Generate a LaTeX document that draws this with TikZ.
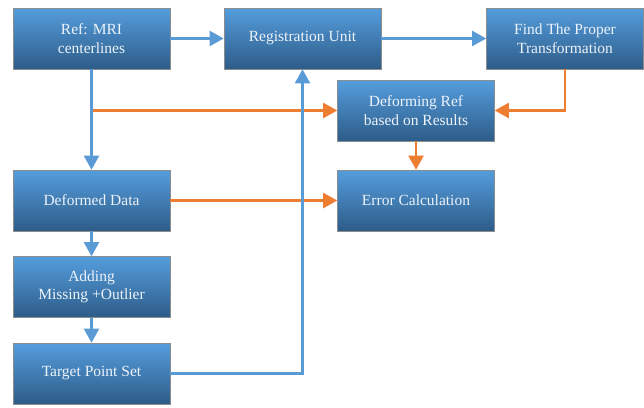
\documentclass[tikz,border=0pt]{standalone}
\usepackage{fontspec}
\setmainfont{Liberation Serif}
\usetikzlibrary{arrows.meta}
\definecolor{boxtop}{HTML}{559DDD}
\definecolor{boxbot}{HTML}{2D5C88}
\definecolor{boxedge}{HTML}{8C8C8C}
\definecolor{boxtext}{HTML}{EEF3FA}
\definecolor{lblue}{HTML}{5B9BD5}
\definecolor{orng}{HTML}{ED7D31}
\begin{document}
\begin{tikzpicture}[x=1pt,y=-1pt,
  box/.style={rectangle, minimum width=157pt, minimum height=61pt, inner sep=0pt,
    top color=boxtop, bottom color=boxbot, draw=boxedge, line width=0.6pt,
    text=boxtext, align=center, font=\fontsize{15.5}{18.5}\selectfont},
  bl/.style={draw=lblue, line width=2.2pt, -{Triangle[length=14pt,width=15pt]}},
  ol/.style={draw=orng, line width=2.2pt, -{Triangle[length=14pt,width=15pt]}}]
\useasboundingbox (0,0) rectangle (644,407);
\node[box] (ref) at (91.5,38.5) {Ref: MRI\\centerlines};
\node[box] (reg) at (302.5,38.5) {Registration Unit};
\node[box] (find) at (565,38.5) {Find The Proper\\Transformation};
\node[box] (deform) at (416,110.5) {Deforming Ref\\based on Results};
\node[box] (err) at (416,200.5) {Error Calculation};
\node[box] (dd) at (91.5,200.5) {Deformed Data};
\node[box] (add) at (91.5,287) {Adding\\Missing +Outlier};
\node[box] (tgt) at (91.5,373.5) {Target Point Set};
\coordinate (br) at (ref.south |- deform.west);
\draw[ol] (br) -- (deform.west);
\draw[ol] (find.south) |- (deform.east);
\draw[ol] (deform) -- (err);
\draw[ol] (dd) -- (err);
\draw[bl] (ref) -- (reg);
\draw[bl] (reg) -- (find);
\draw[bl] (ref) -- (dd);
\draw[bl] (dd) -- (add);
\draw[bl] (add) -- (tgt);
\draw[bl] (tgt.east) -| (reg.south);
\end{tikzpicture}
\end{document}
